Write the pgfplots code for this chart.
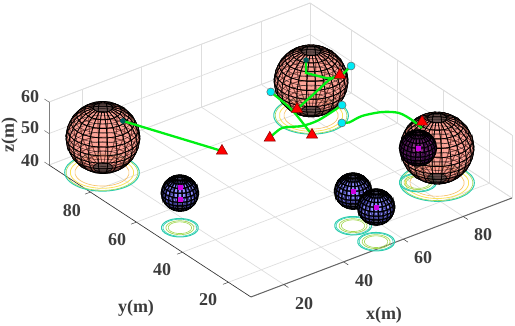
\documentclass[border=0pt]{standalone}
\usepackage{pgfplots}
\usepackage{pgfplotstable}
\usepackage{fontspec}
\setmainfont{Liberation Serif}
\pgfplotsset{compat=1.18}
\definecolor{ringA}{RGB}{45,205,175}
\definecolor{ringB}{RGB}{165,215,85}
\definecolor{ringC}{RGB}{252,225,90}
\definecolor{ringD}{RGB}{248,190,95}
\definecolor{txt}{RGB}{60,60,60}
\definecolor{grn}{RGB}{0,240,20}
\definecolor{cy}{RGB}{0,235,245}
\definecolor{mag}{RGB}{205,0,225}
\pgfplotstableread{
x y z
1 0 0
.966 .259 0
.866 .5 0
.707 .707 0
.5 .866 0
.259 .966 0
0 1 0
-.259 .966 0
-.5 .866 0
-.707 .707 0
-.866 .5 0
-.966 .259 0
-1 0 0
-.966 -.259 0
-.866 -.5 0
-.707 -.707 0
-.5 -.866 0
-.259 -.966 0
0 -1 0
.259 -.966 0
.5 -.866 0
.707 -.707 0
.866 -.5 0
.966 -.259 0
1 0 0
}\unitring
\pgfplotstableread{
x y z
.26 0 -.97
.25 .07 -.97
.22 .13 -.97
.18 .18 -.97
.13 .22 -.97
.07 .25 -.97
0 .26 -.97
-.07 .25 -.97
-.13 .22 -.97
-.18 .18 -.97
-.22 .13 -.97
-.25 .07 -.97
-.26 0 -.97
-.25 -.07 -.97
-.22 -.13 -.97
-.18 -.18 -.97
-.13 -.22 -.97
-.07 -.25 -.97
0 -.26 -.97
.07 -.25 -.97
.13 -.22 -.97
.18 -.18 -.97
.22 -.13 -.97
.25 -.07 -.97
.26 0 -.97
.5 0 -.87
.48 .13 -.87
.43 .25 -.87
.35 .35 -.87
.25 .43 -.87
.13 .48 -.87
0 .5 -.87
-.13 .48 -.87
-.25 .43 -.87
-.35 .35 -.87
-.43 .25 -.87
-.48 .13 -.87
-.5 0 -.87
-.48 -.13 -.87
-.43 -.25 -.87
-.35 -.35 -.87
-.25 -.43 -.87
-.13 -.48 -.87
0 -.5 -.87
.13 -.48 -.87
.25 -.43 -.87
.35 -.35 -.87
.43 -.25 -.87
.48 -.13 -.87
.5 0 -.87
.71 0 -.71
.68 .18 -.71
.61 .35 -.71
.5 .5 -.71
.35 .61 -.71
.18 .68 -.71
0 .71 -.71
-.18 .68 -.71
-.35 .61 -.71
-.5 .5 -.71
-.61 .35 -.71
-.68 .18 -.71
-.71 0 -.71
-.68 -.18 -.71
-.61 -.35 -.71
-.5 -.5 -.71
-.35 -.61 -.71
-.18 -.68 -.71
0 -.71 -.71
.18 -.68 -.71
.35 -.61 -.71
.5 -.5 -.71
.61 -.35 -.71
.68 -.18 -.71
.71 0 -.71
.87 0 -.5
.84 .22 -.5
.75 .43 -.5
.61 .61 -.5
.43 .75 -.5
.22 .84 -.5
0 .87 -.5
-.22 .84 -.5
-.43 .75 -.5
-.61 .61 -.5
-.75 .43 -.5
-.84 .22 -.5
-.87 0 -.5
-.84 -.22 -.5
-.75 -.43 -.5
-.61 -.61 -.5
-.43 -.75 -.5
-.22 -.84 -.5
0 -.87 -.5
.22 -.84 -.5
.43 -.75 -.5
.61 -.61 -.5
.75 -.43 -.5
.84 -.22 -.5
.87 0 -.5
.97 0 -.26
.93 .25 -.26
.84 .48 -.26
.68 .68 -.26
.48 .84 -.26
.25 .93 -.26
0 .97 -.26
-.25 .93 -.26
-.48 .84 -.26
-.68 .68 -.26
-.84 .48 -.26
-.93 .25 -.26
-.97 0 -.26
-.93 -.25 -.26
-.84 -.48 -.26
-.68 -.68 -.26
-.48 -.84 -.26
-.25 -.93 -.26
0 -.97 -.26
.25 -.93 -.26
.48 -.84 -.26
.68 -.68 -.26
.84 -.48 -.26
.93 -.25 -.26
.97 0 -.26
1 0 0
.97 .26 0
.87 .5 0
.71 .71 0
.5 .87 0
.26 .97 0
0 1 0
-.26 .97 0
-.5 .87 0
-.71 .71 0
-.87 .5 0
-.97 .26 0
-1 0 0
-.97 -.26 0
-.87 -.5 0
-.71 -.71 0
-.5 -.87 0
-.26 -.97 0
0 -1 0
.26 -.97 0
.5 -.87 0
.71 -.71 0
.87 -.5 0
.97 -.26 0
1 0 0
.97 0 .26
.93 .25 .26
.84 .48 .26
.68 .68 .26
.48 .84 .26
.25 .93 .26
0 .97 .26
-.25 .93 .26
-.48 .84 .26
-.68 .68 .26
-.84 .48 .26
-.93 .25 .26
-.97 0 .26
-.93 -.25 .26
-.84 -.48 .26
-.68 -.68 .26
-.48 -.84 .26
-.25 -.93 .26
0 -.97 .26
.25 -.93 .26
.48 -.84 .26
.68 -.68 .26
.84 -.48 .26
.93 -.25 .26
.97 0 .26
.87 0 .5
.84 .22 .5
.75 .43 .5
.61 .61 .5
.43 .75 .5
.22 .84 .5
0 .87 .5
-.22 .84 .5
-.43 .75 .5
-.61 .61 .5
-.75 .43 .5
-.84 .22 .5
-.87 0 .5
-.84 -.22 .5
-.75 -.43 .5
-.61 -.61 .5
-.43 -.75 .5
-.22 -.84 .5
0 -.87 .5
.22 -.84 .5
.43 -.75 .5
.61 -.61 .5
.75 -.43 .5
.84 -.22 .5
.87 0 .5
.71 0 .71
.68 .18 .71
.61 .35 .71
.5 .5 .71
.35 .61 .71
.18 .68 .71
0 .71 .71
-.18 .68 .71
-.35 .61 .71
-.5 .5 .71
-.61 .35 .71
-.68 .18 .71
-.71 0 .71
-.68 -.18 .71
-.61 -.35 .71
-.5 -.5 .71
-.35 -.61 .71
-.18 -.68 .71
0 -.71 .71
.18 -.68 .71
.35 -.61 .71
.5 -.5 .71
.61 -.35 .71
.68 -.18 .71
.71 0 .71
.5 0 .87
.48 .13 .87
.43 .25 .87
.35 .35 .87
.25 .43 .87
.13 .48 .87
0 .5 .87
-.13 .48 .87
-.25 .43 .87
-.35 .35 .87
-.43 .25 .87
-.48 .13 .87
-.5 0 .87
-.48 -.13 .87
-.43 -.25 .87
-.35 -.35 .87
-.25 -.43 .87
-.13 -.48 .87
0 -.5 .87
.13 -.48 .87
.25 -.43 .87
.35 -.35 .87
.43 -.25 .87
.48 -.13 .87
.5 0 .87
.26 0 .97
.25 .07 .97
.22 .13 .97
.18 .18 .97
.13 .22 .97
.07 .25 .97
0 .26 .97
-.07 .25 .97
-.13 .22 .97
-.18 .18 .97
-.22 .13 .97
-.25 .07 .97
-.26 0 .97
-.25 -.07 .97
-.22 -.13 .97
-.18 -.18 .97
-.13 -.22 .97
-.07 -.25 .97
0 -.26 .97
.07 -.25 .97
.13 -.22 .97
.18 -.18 .97
.22 -.13 .97
.25 -.07 .97
.26 0 .97
}\sph
% centre x, y, z, radius, colour value, line width
\newcommand{\ball}[6]{%
\addplot3[surf,shader=flat,draw=black,line width=#6,fill opacity=0.5,draw opacity=1,mesh/rows=11,mesh/cols=25,mesh/ordering=x varies,z buffer=sort,point meta=#5] table[x expr=\thisrow{x}*#4+#1,y expr=\thisrow{y}*#4+#2,z expr=\thisrow{z}*#4+#3] {\sph};
\addplot3[fill=black,fill opacity=.6,draw=black,no markers] table[x expr=\thisrow{x}*.26*#4+#1,y expr=\thisrow{y}*.26*#4+#2,z expr=.97*#4+#3] {\unitring};
\addplot3[fill=black,fill opacity=.6,draw=black,no markers] table[x expr=\thisrow{x}*.26*#4+#1,y expr=\thisrow{y}*.26*#4+#2,z expr=-.97*#4+#3] {\unitring};
}
\newcommand{\latl}[6]{\addplot3[draw=black,draw opacity=.8,line width=.4pt,no markers,smooth] table[x expr=\thisrow{x}*#5*#4+#1,y expr=\thisrow{y}*#5*#4+#2,z expr=#6*#4+#3] {\unitring};}
\newcommand{\extras}[4]{%
\latl{#1}{#2}{#3}{#4}{.991}{.131}\latl{#1}{#2}{#3}{#4}{.991}{-.131}
\latl{#1}{#2}{#3}{#4}{.924}{.383}\latl{#1}{#2}{#3}{#4}{.924}{-.383}
\latl{#1}{#2}{#3}{#4}{.793}{.609}\latl{#1}{#2}{#3}{#4}{.793}{-.609}
\latl{#1}{#2}{#3}{#4}{.609}{.793}\latl{#1}{#2}{#3}{#4}{.609}{-.793}
}
\newcommand{\ring}[5]{\addplot3[draw=#4,line width=#5,no markers,smooth] table[x expr=\thisrow{x}*#3+#1,y expr=\thisrow{y}*#3+#2,z expr=40] {\unitring};}
\newcommand{\bigrings}[2]{\ring{#1}{#2}{9.9}{ringA}{1pt}\ring{#1}{#2}{9.5}{ringB}{.6pt}\ring{#1}{#2}{8.4}{ringC}{.8pt}\ring{#1}{#2}{7.2}{ringD}{.6pt}}
\newcommand{\smallrings}[2]{\ring{#1}{#2}{4.9}{ringA}{1pt}\ring{#1}{#2}{4.5}{ringA}{.6pt}\ring{#1}{#2}{3.7}{ringB}{.7pt}\ring{#1}{#2}{3.1}{ringB}{.6pt}}
\begin{document}
\begin{tikzpicture}
\path[use as bounding box] (0pt,0pt) rectangle (515pt,326pt);
\begin{axis}[
  at={(49pt,29pt)},anchor=south west,
  x={(2.99pt,1.134pt)},y={(-2.3pt,1.503pt)},z={(0pt,3.15pt)},
  xmin=9,xmax=96.3,ymin=10.2,ymax=98,zmin=40,zmax=60,
  xtick={20,40,60,80},ytick={20,40,60,80},ztick={40,50,60},
  xticklabels={,,,},yticklabels={,,,},zticklabels={,,},
  grid=major,grid style={draw=black!13,line width=0.7pt},
  axis line style={draw=black!13,line width=0.7pt},
  tick style={draw=none},major tick length=0pt,
  clip=false,
  colormap={ballmap}{rgb255=(255,135,120) rgb255=(110,110,255) rgb255=(95,20,115)},
  point meta min=0,point meta max=1,
]
\addplot3[draw=black!60,line width=1pt,no markers] coordinates {(9,10.2,40) (96.3,10.2,40)};
\addplot3[draw=black!80,line width=0.6pt,no markers] coordinates {(9,10.2,40) (9,98,40)};
\addplot3[draw=black!50,line width=0.6pt,no markers] coordinates {(9,98,40) (9,98,60)};
\pgfplotsinvokeforeach{20,40,60,80}{
\addplot3[draw=black!75,line width=0.5pt,no markers] coordinates {(#1,10.2,40) (#1,8.2,40)};
\addplot3[draw=black!75,line width=0.5pt,no markers] coordinates {(9,#1,40) (7.2,#1,40)};
}
\pgfplotsinvokeforeach{40,50,60}{
\addplot3[draw=black!60,line width=0.5pt,no markers] coordinates {(9,98,#1) (9,100,#1)};
}
\bigrings{17.8}{86.4}
\bigrings{80.5}{77}
\bigrings{85.4}{28.6}
\smallrings{16.4}{50.7}
\smallrings{53.7}{23.9}
\smallrings{53.4}{13.5}
\smallrings{81.4}{31.7}
\addplot3[only marks,mark=triangle*,mark size=6.5pt,mark options={fill=red,draw=red!50!black,line width=0.5pt}] coordinates {(89.5,76.2,50) (91.7,43.3,50)};
\ball{18.1}{86.4}{51}{9.8}{0}{0.7pt}\extras{18.1}{86.4}{51}{9.8}
\ball{80.5}{77}{51}{9.8}{0}{0.7pt}\extras{80.5}{77}{51}{9.8}
\ball{85.4}{28.6}{51}{9.8}{0}{0.7pt}\extras{85.4}{28.6}{51}{9.8}
\ball{81.4}{31.7}{51}{4.9}{1}{.8pt}
\ball{16.4}{50.7}{51}{4.9}{.5}{1pt}
\ball{53.7}{23.9}{51}{4.9}{.5}{1pt}
\ball{53.4}{13.5}{51}{4.9}{.5}{1pt}
\addplot3[only marks,mark=square*,mark size=2pt,color=mag] coordinates {(16.4,50.7,49) (16.4,50.7,53) (53.7,23.9,51) (53.4,13.5,51) (81.4,31.7,51)};
\addplot3[draw=grn,line width=2.3pt,no markers] coordinates {(28.7,91.5,50) (39.95,63.03,50)};
\addplot3[draw=grn,line width=2.3pt,no markers,smooth] coordinates {(69.4,80.1,50) (68.05,69.1,50) (64.2,55.4,50)};
\addplot3[draw=grn,line width=2.3pt,no markers,smooth] coordinates {(54.3,60.9,50) (60.1,63.1,50) (65,60.8,50) (70.5,60.6,50) (80.25,63.2,50)};
\addplot3[draw=grn,line width=2.3pt,no markers,smooth] coordinates {(69.4,68.7,50) (78.4,72.6,50) (85.6,75.8,50) (89.5,76.2,50)};
\addplot3[draw=grn,line width=2.3pt,no markers] coordinates {(94.8,78.2,50) (88.35,75.1,50) (85.6,77.2,50) (83,82.5,50) (87.2,87.9,50)};
\addplot3[draw=grn,line width=2.3pt,no markers,smooth] coordinates {(74.4,55.7,50) (76.1,54.75,50) (80.9,55.4,50) (86.4,53.9,50) (89.7,50.8,50) (90.2,45.75,50) (89.7,40.8,50)};
\addplot3[only marks,mark=*,mark size=2.5pt,color=teal!70!black] coordinates {(28.7,91.5,50) (87.2,87.9,50)};
\addplot3[only marks,mark=triangle*,mark size=6.5pt,mark options={fill=red,draw=red!50!black,line width=0.5pt}] coordinates {(39.95,63.03,50) (54.3,60.9,50) (64.2,55.4,50) (69.4,68.7,50)};
\addplot3[only marks,mark=*,mark size=4pt,mark options={fill=cy,draw=black!60,line width=0.5pt}] coordinates {(69.4,80.1,50) (94.8,78.2,50) (80.25,63.2,50) (74.4,55.7,50)};
\end{axis}
\tikzset{lab/.style={font=\fontsize{18}{18}\selectfont\bfseries,text=txt,inner sep=0pt}}
\node[lab] at (304pt,22pt) {20};
\node[lab] at (364pt,45pt) {40};
\node[lab] at (423pt,68pt) {60};
\node[lab] at (483pt,91pt) {80};
\node[lab] at (208pt,26pt) {20};
\node[lab] at (162pt,56pt) {40};
\node[lab] at (117pt,86pt) {60};
\node[lab] at (72pt,115pt) {80};
\node[lab] at (30pt,165pt) {40};
\node[lab] at (30pt,198pt) {50};
\node[lab] at (30pt,229pt) {60};
\node[lab] at (136pt,18pt) {y(m)};
\node[lab] at (384pt,11pt) {x(m)};
\node[lab,rotate=90] at (9.5pt,191pt) {z(m)};
\end{tikzpicture}
\end{document}
